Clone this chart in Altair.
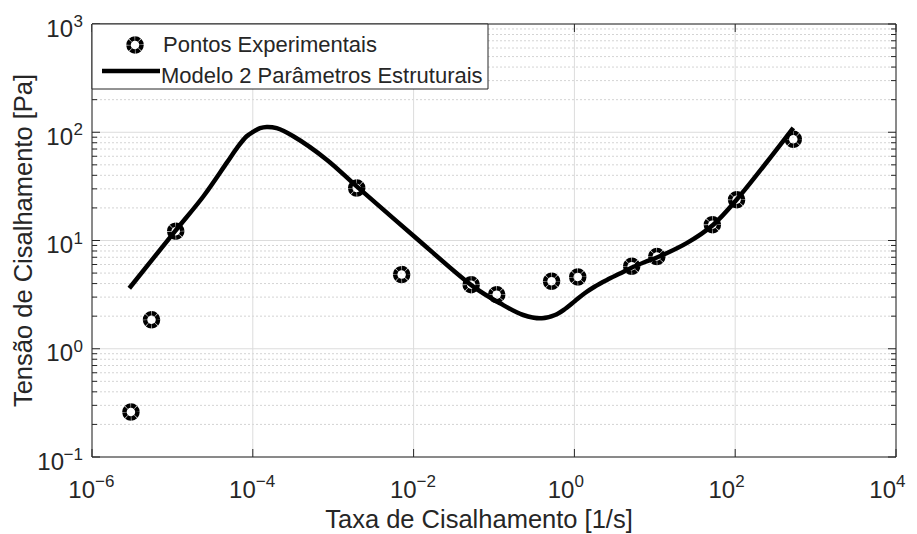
import altair as alt
import pandas as pd

# ---------------- data ----------------
x_points = [3.05e-6, 5.5e-6, 1.1e-5, 1.96e-3, 7.1e-3, 0.052, 0.108, 0.52, 1.1, 5.16, 10.6, 52, 104, 528]
y_points = [0.26, 1.85, 12.2, 30.5, 4.84, 3.91, 3.16, 4.2, 4.6, 5.78, 7.11, 14.0, 23.8, 86]

x_model = [2.91e-6, 1.08e-5, 2.42e-5, 4.73e-5, 6.31e-5, 8.39e-5, 1.01e-4, 1.23e-4, 1.49e-4,
           1.98e-4, 3.19e-4, 8.3e-4, 1.96e-3, 1.02e-2, 5.53e-2, 0.119, 0.231, 0.392,
           0.574, 0.764, 1.017, 1.355, 1.80, 2.54, 3.69, 5.20, 7.55, 10.96, 24.9, 53.4, 104, 528]
y_model = [3.62, 12.2, 25.5, 52.1, 71.1, 91.8, 101, 109, 112,
           109, 91.8, 55.8, 31.6, 10.9, 3.75, 2.63, 2.05, 1.91,
           2.05, 2.33, 2.76, 3.27, 3.76, 4.32, 4.96, 5.63, 6.33, 7.04, 9.46, 14.0, 23.8, 110]

x_tick_exp = [-6, -4, -2, 0, 2, 4]
y_tick_exp = [-1, 0, 1, 2, 3]
y_minor_mult = [2, 3, 4, 5, 6, 7, 8, 9]

legend_labels = ["Pontos Experimentais", "Modelo 2 Parâmetros Estruturais"]
x_title = "Taxa de Cisalhamento [1/s]"
y_title = "Tensão de Cisalhamento [Pa]"

# ---------------- styling ----------------
W, H = 804, 433
FONT = "Liberation Sans"
TXT = "#262626"


def sup(e):
    return ("\u2212" + str(-e)) if e < 0 else str(e)


xs = alt.Scale(type="log", domain=[1e-6, 1e4], nice=False)
ys = alt.Scale(type="log", domain=[0.1, 1000], nice=False)

pts_df = pd.DataFrame({"x": x_points, "y": y_points})
mod_df = pd.DataFrame({"x": x_model, "y": y_model})
xlab_df = pd.DataFrame({"v": [10.0 ** e for e in x_tick_exp],
                        "s": [sup(e) for e in x_tick_exp],
                        "e": x_tick_exp})
ylab_df = pd.DataFrame({"v": [10.0 ** e for e in y_tick_exp],
                        "s": [sup(e) for e in y_tick_exp],
                        "e": y_tick_exp})
ymin_df = pd.DataFrame({"v": [m * 10.0 ** e for e in y_tick_exp[:-1] for m in y_minor_mult]})
one = pd.DataFrame({"a": [0]})

X = lambda f: alt.X(f, scale=xs, axis=None)
Y = lambda f: alt.Y(f, scale=ys, axis=None)

# grids
grid_ymin = alt.Chart(ymin_df).mark_rule(color="#d4d4d4", strokeDash=[2, 2], strokeWidth=1).encode(
    y=Y("v:Q"), x=alt.value(0), x2=alt.value(W))
grid_ymaj = alt.Chart(ylab_df).mark_rule(color="#dcdcdc", strokeWidth=1).encode(
    y=Y("v:Q"), x=alt.value(0), x2=alt.value(W))
grid_x = alt.Chart(xlab_df).mark_rule(color="#dcdcdc", strokeWidth=1).encode(
    x=X("v:Q"), y=alt.value(0), y2=alt.value(H))

# inward ticks
tk = dict(color=TXT, strokeWidth=1)
ticks = [
    alt.Chart(ylab_df).mark_rule(**tk).encode(y=Y("v:Q"), x=alt.value(0), x2=alt.value(8)),
    alt.Chart(ylab_df).mark_rule(**tk).encode(y=Y("v:Q"), x=alt.value(W - 8), x2=alt.value(W)),
    alt.Chart(ymin_df).mark_rule(**tk).encode(y=Y("v:Q"), x=alt.value(0), x2=alt.value(5)),
    alt.Chart(ymin_df).mark_rule(**tk).encode(y=Y("v:Q"), x=alt.value(W - 5), x2=alt.value(W)),
    alt.Chart(xlab_df).mark_rule(**tk).encode(x=X("v:Q"), y=alt.value(H - 8), y2=alt.value(H)),
    alt.Chart(xlab_df).mark_rule(**tk).encode(x=X("v:Q"), y=alt.value(0), y2=alt.value(8)),
]

frame = alt.Chart(one).mark_rect(fillOpacity=0, stroke=TXT, strokeWidth=1).encode(
    x=alt.value(0), x2=alt.value(W), y=alt.value(0), y2=alt.value(H))

marker_style = dict(shape="circle", filled=False, size=169, strokeWidth=4.5,
                    color="black", opacity=1, strokeDash=[4.5, 0.5])
points = alt.Chart(pts_df).mark_point(**marker_style).encode(x=X("x:Q"), y=Y("y:Q"))
line = alt.Chart(mod_df).mark_line(color="black", strokeWidth=4.5, interpolate="catmull-rom").encode(
    x=X("x:Q"), y=Y("y:Q"))

# legend
leg_box = alt.Chart(one).mark_rect(fill="white", stroke=TXT, strokeWidth=1).encode(
    x=alt.value(0), x2=alt.value(396), y=alt.value(0), y2=alt.value(65))
leg_pt = alt.Chart(one).mark_point(**marker_style).encode(x=alt.value(43), y=alt.value(21))
leg_ln = alt.Chart(one).mark_rule(color="black", strokeWidth=4.5).encode(
    x=alt.value(10), x2=alt.value(68), y=alt.value(47))
ltxt = dict(font=FONT, fontSize=22, color=TXT, align="left", baseline="alphabetic")
leg_t1 = alt.Chart(one).mark_text(text=legend_labels[0], **ltxt).encode(x=alt.value(71), y=alt.value(28))
leg_t2 = alt.Chart(one).mark_text(text=legend_labels[1], **ltxt).encode(x=alt.value(69), y=alt.value(59))

# tick labels
base = dict(font=FONT, color=TXT, baseline="alphabetic")
xl_neg = alt.Chart(xlab_df).transform_filter("datum.e < 0").mark_text(
    text="10", align="right", fontSize=24, dx=3, **base).encode(x=X("v:Q"), y=alt.value(H + 41))
xl_pos = alt.Chart(xlab_df).transform_filter("datum.e >= 0").mark_text(
    text="10", align="right", fontSize=24, dx=0, **base).encode(x=X("v:Q"), y=alt.value(H + 41))
xe_neg = alt.Chart(xlab_df).transform_filter("datum.e < 0").mark_text(
    align="left", fontSize=17, dx=3, **base).encode(x=X("v:Q"), y=alt.value(H + 30), text="s:N")
xe_pos = alt.Chart(xlab_df).transform_filter("datum.e >= 0").mark_text(
    align="left", fontSize=17, dx=0, **base).encode(x=X("v:Q"), y=alt.value(H + 30), text="s:N")

yl_pos = alt.Chart(ylab_df).transform_filter("datum.e >= 0").mark_text(
    text="10", align="right", fontSize=24, dy=12.5, **base).encode(y=Y("v:Q"), x=alt.value(-19))
yl_neg = alt.Chart(ylab_df).transform_filter("datum.e < 0").mark_text(
    text="10", align="right", fontSize=24, dy=12.5, **base).encode(y=Y("v:Q"), x=alt.value(-28))
ye = alt.Chart(ylab_df).mark_text(align="right", fontSize=17, dy=3, **base).encode(
    y=Y("v:Q"), x=alt.value(-9), text="s:N")

# axis titles
xt = alt.Chart(one).mark_text(text=x_title, align="center", fontSize=25.5, **base).encode(
    x=alt.value(387), y=alt.value(H + 71))
yt = alt.Chart(one).mark_text(text=y_title, align="center", fontSize=25.5, angle=270, **base).encode(
    x=alt.value(-60), y=alt.value(H / 2))

chart = alt.layer(
    grid_ymin, grid_ymaj, grid_x, *ticks, frame, points, line,
    leg_box, leg_pt, leg_ln, leg_t1, leg_t2,
    xl_neg, xl_pos, xe_neg, xe_pos, yl_pos, yl_neg, ye, xt, yt,
).properties(
    width=W, height=H,
    autosize=alt.AutoSizeParams(type="none"),
    padding={"left": 92, "top": 24, "right": 21, "bottom": 77},
    background="white",
).configure_view(strokeWidth=0)

chart.save("out.html", embed_options={"renderer": "svg", "actions": False})
